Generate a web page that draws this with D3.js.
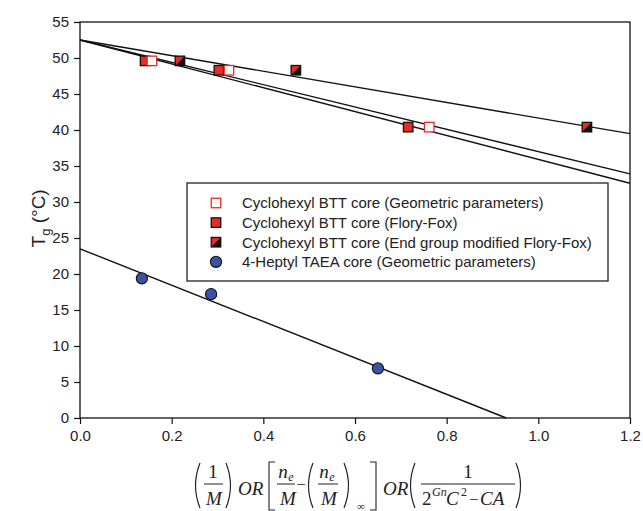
<!DOCTYPE html>
<html>
<head>
<meta charset="utf-8">
<script src="https://cdn.jsdelivr.net/npm/d3@7"></script>
<style>
  body { margin: 0; background: #fff; }
  svg { display: block; }
</style>
</head>
<body>
<div id="chart"></div>
<script>
// ---- data ----
var seriesNames = [
    "Cyclohexyl BTT core (Geometric parameters)",
    "Cyclohexyl BTT core (Flory-Fox)",
    "Cyclohexyl BTT core (End group modified Flory-Fox)",
    "4-Heptyl TAEA core (Geometric parameters)"
];
var geomX  = [0.157, 0.325, 0.762];
var geomY  = [49.6, 48.3, 40.4];
var floryX = [0.142, 0.303, 0.716];
var floryY = [49.6, 48.3, 40.4];
var endX   = [0.218, 0.471, 1.106];
var endY   = [49.6, 48.3, 40.4];
var heptX  = [0.135, 0.286, 0.650];
var heptY  = [19.4, 17.2, 6.9];

// fitted straight lines: start (x0,y0) -> end (x1,y1)
var fitX0 = [0, 0, 0, 0];
var fitY0 = [52.5, 52.5, 52.5, 23.5];
var fitX1 = [1.2, 1.2, 1.2, 0.93];
var fitY1 = [33.9, 32.6, 39.5, 0];

var xTicks = [0, 0.2, 0.4, 0.6, 0.8, 1.0, 1.2];
var yTicks = [0, 5, 10, 15, 20, 25, 30, 35, 40, 45, 50, 55];

var red = "#ec2a24";
var blue = "#3a52a3";

var W = 643, H = 511;
var margin = {left: 80, right: 13, top: 22, bottom: 93};

var svg = d3.select("#chart").append("svg")
    .attr("width", W)
    .attr("height", H)
    .style("font-family", "'Liberation Sans', Arial, sans-serif");

var x = d3.scaleLinear().domain([0, 1.2]).range([margin.left, W - margin.right]);
var y = d3.scaleLinear().domain([0, 55]).range([H - margin.bottom, margin.top]);

// axes
var xAxis = svg.append("g")
    .attr("transform", "translate(0," + y(0) + ")")
    .call(d3.axisBottom(x).tickValues(xTicks).tickFormat(d3.format(".1f")).tickSize(6).tickPadding(6));
var yAxis = svg.append("g")
    .attr("transform", "translate(" + x(0) + ",0)")
    .call(d3.axisLeft(y).tickValues(yTicks).tickSize(6).tickPadding(5));

[xAxis, yAxis].forEach(function(a) {
    a.select(".domain").remove();
    a.selectAll("line").attr("stroke", "#111").attr("stroke-width", 1.2);
    a.selectAll("text").attr("fill", "#222").style("font-size", "15px")
        .style("font-family", "'Liberation Sans', Arial, sans-serif");
});

// frame
svg.append("rect")
    .attr("x", x(0)).attr("y", y(55))
    .attr("width", x(1.2) - x(0)).attr("height", y(0) - y(55))
    .attr("fill", "none").attr("stroke", "#111").attr("stroke-width", 1.3);

// fit lines
svg.append("g").selectAll("line")
    .data(d3.range(fitX0.length))
    .enter().append("line")
    .attr("x1", function(i) { return x(fitX0[i]); })
    .attr("y1", function(i) { return y(fitY0[i]); })
    .attr("x2", function(i) { return x(fitX1[i]); })
    .attr("y2", function(i) { return y(fitY1[i]); })
    .attr("stroke", "#111")
    .attr("stroke-width", 1.4);

// marker drawing helpers
var sq = 9.5;
function openSquare(g, cx, cy) {
    g.append("rect").attr("x", cx - sq / 2).attr("y", cy - sq / 2)
        .attr("width", sq).attr("height", sq)
        .attr("fill", "#fff").attr("stroke", red).attr("stroke-width", 1.3);
}
function filledSquare(g, cx, cy) {
    g.append("rect").attr("x", cx - sq / 2).attr("y", cy - sq / 2)
        .attr("width", sq).attr("height", sq)
        .attr("fill", red).attr("stroke", "#111").attr("stroke-width", 1.3);
}
function halfSquare(g, cx, cy) {
    var h = sq / 2;
    g.append("rect").attr("x", cx - h).attr("y", cy - h)
        .attr("width", sq).attr("height", sq).attr("fill", "#111");
    g.append("path")
        .attr("d", "M" + (cx - h) + "," + (cy - h) + "L" + (cx + h) + "," + (cy - h) + "L" + (cx - h) + "," + (cy + h) + "Z")
        .attr("fill", red);
    g.append("rect").attr("x", cx - h).attr("y", cy - h)
        .attr("width", sq).attr("height", sq)
        .attr("fill", "none").attr("stroke", "#111").attr("stroke-width", 1.3);
}
function circle(g, cx, cy) {
    g.append("circle").attr("cx", cx).attr("cy", cy).attr("r", 5.6)
        .attr("fill", blue).attr("stroke", "#111").attr("stroke-width", 1.1);
}

var marks = svg.append("g");
floryX.forEach(function(v, i) { filledSquare(marks, x(v), y(floryY[i])); });
geomX.forEach(function(v, i) { openSquare(marks, x(v), y(geomY[i])); });
endX.forEach(function(v, i) { halfSquare(marks, x(v), y(endY[i])); });
heptX.forEach(function(v, i) { circle(marks, x(v), y(heptY[i])); });

// legend
var legend = svg.append("g");
legend.append("rect")
    .attr("x", 187).attr("y", 183).attr("width", 421).attr("height", 98)
    .attr("fill", "#fff").attr("stroke", "#333").attr("stroke-width", 1.4);
var drawers = [openSquare, filledSquare, halfSquare, circle];
seriesNames.forEach(function(name, i) {
    var cy = 203 + i * 19.6;
    drawers[i](legend, 216, cy);
    legend.append("text")
        .attr("x", 242).attr("y", cy + 5.3)
        .attr("fill", "#222")
        .style("font-size", "15px")
        .text(name);
});

// y axis title: T, subscript g, (°C) as separate pieces in a rotated group
var yt = svg.append("g")
    .attr("transform", "translate(45,221) rotate(-90)")
    .attr("fill", "#222");
var tT = yt.append("text").style("font-size", "19px").text("T");
var tg = yt.append("text").style("font-size", "13px").text("g");
var tC = yt.append("text").style("font-size", "19px").text(" (\u00B0C)");
var wT = tT.node().getComputedTextLength();
var wg = tg.node().getComputedTextLength();
var wC = tC.node().getComputedTextLength();
var x0 = -(wT + wg + wC) / 2;
tT.attr("x", x0).attr("y", 0);
tg.attr("x", x0 + wT).attr("y", 5);
tC.attr("x", x0 + wT + wg).attr("y", 0).style("white-space", "pre");

// x axis title (formula)
var ink = "#222";
var f = svg.append("g")
    .style("font-family", "'Liberation Serif', 'Times New Roman', serif")
    .attr("fill", ink);

function glyph(t, gx, gy, size, italic, anchor) {
    return f.append("text").attr("x", gx).attr("y", gy)
        .attr("text-anchor", anchor || "middle")
        .style("font-size", size + "px")
        .style("font-style", italic ? "italic" : "normal")
        .text(t);
}
// thin tall parentheses drawn as curves; dir 1 = "(", -1 = ")"
function paren(px, dir) {
    var top = 463, bot = 508, mid = (top + bot) / 2;
    var ex = px, cx = px - dir * 9;
    f.append("path")
        .attr("d", "M" + ex + "," + top + " Q" + cx + "," + mid + " " + ex + "," + bot)
        .attr("fill", "none").attr("stroke", ink).attr("stroke-width", 1.2);
}
function bar(x1, x2) {
    f.append("line").attr("x1", x1).attr("x2", x2).attr("y1", 484).attr("y2", 484)
        .attr("stroke", ink).attr("stroke-width", 1);
}
function bracket(bx, dir) {
    f.append("path")
        .attr("d", "M" + (bx + dir * 6) + ",462 L" + bx + ",462 L" + bx + ",510 L" + (bx + dir * 6) + ",510")
        .attr("fill", "none").attr("stroke", ink).attr("stroke-width", 1.1);
}
function ne(cx) {
    glyph("n", cx - 3, 478, 19, true);
    glyph("e", cx + 5, 481, 12, true);
}

// (1/M)
paren(200, 1);
glyph("1", 213, 478, 19, false);
bar(204, 223);
glyph("M", 214, 505, 19, true);
paren(226, -1);
glyph("OR", 238, 495, 19, true, "start");
// [ne/M - (ne/M)inf ]
bracket(269, 1);
ne(286);
bar(277, 295);
glyph("M", 288, 505, 19, true);
glyph("\u2212", 301, 490, 17, false);
paren(313, 1);
ne(327);
bar(318, 338);
glyph("M", 329, 505, 19, true);
paren(344, -1);
glyph("\u221E", 361, 510, 11, false);
bracket(376, -1);
glyph("OR", 383, 495, 19, true, "start");
// (1/(2^Gn C^2 - CA))
paren(415, 1);
glyph("1", 468, 478, 19, false);
bar(421, 515);
glyph("2", 422, 505, 19, false, "start");
glyph("Gn", 432, 496, 12, true, "start");
glyph("C", 446, 505, 19, true, "start");
glyph("2", 461, 496, 12, false, "start");
glyph("\u2212", 469, 505, 17, false, "start");
glyph("CA", 480, 505, 19, true, "start");
paren(516, -1);
</script>
</body>
</html>
